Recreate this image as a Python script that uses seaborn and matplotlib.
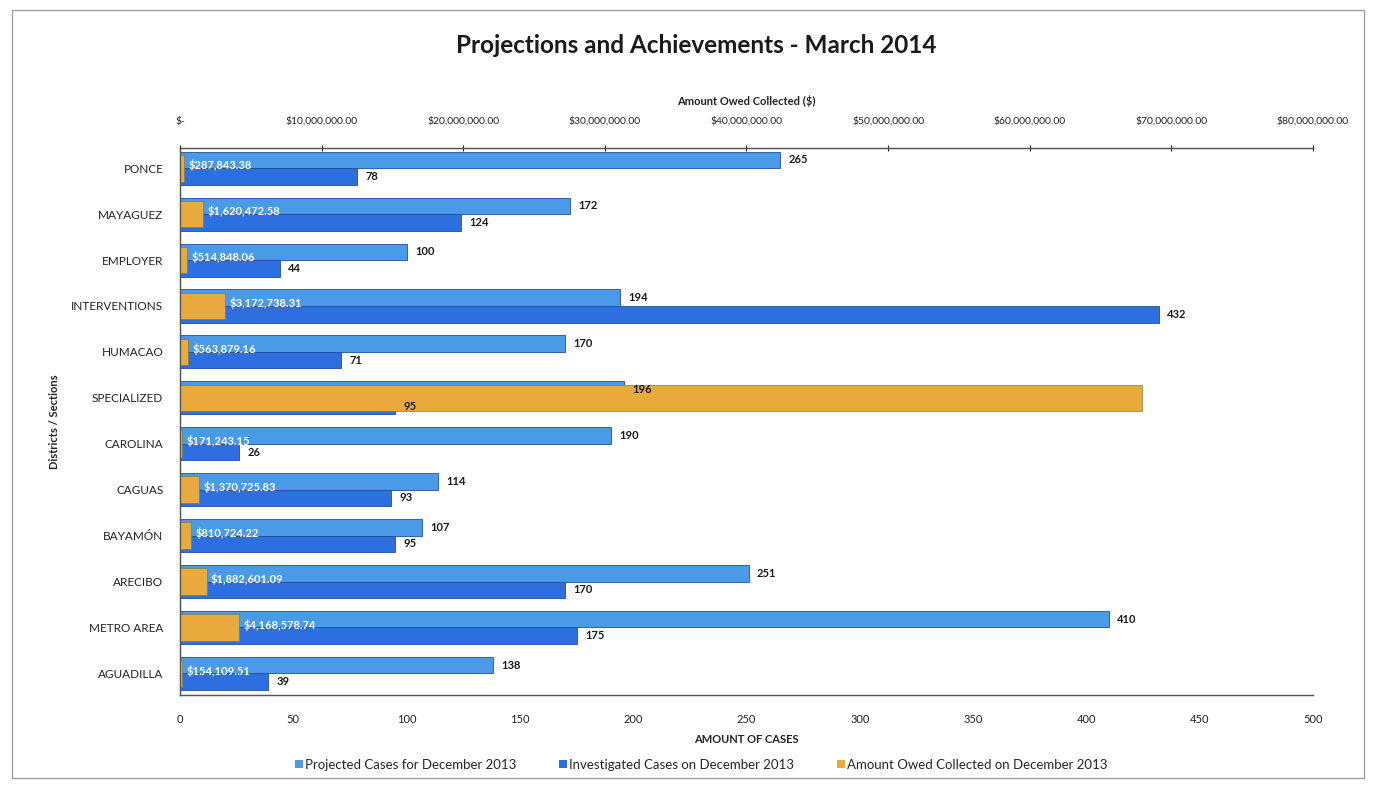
import matplotlib
matplotlib.use("Agg")
import matplotlib.pyplot as plt
import seaborn as sns
import pandas as pd
from matplotlib.ticker import FuncFormatter
from matplotlib.patches import Patch, Rectangle

# Offices / sections, listed top to bottom
offices = ["PONCE", "MAYAGUEZ", "EMPLOYER", "INTERVENTIONS", "HUMACAO",
           "SPECIALIZED", "CAROLINA", "CAGUAS", "BAYAMÓN", "ARECIBO",
           "METRO AREA", "AGUADILLA"]

# Cases (bottom axis)
projected = [265, 172, 100, 194, 170, 196, 190, 114, 107, 251, 410, 138]
investigated = [78, 124, 44, 432, 71, 95, 26, 93, 95, 170, 175, 39]

# Amount owed collected in dollars (top axis)
collected = [287843.38, 1620472.58, 514848.06, 3172738.31, 563879.16,
             67950000.00, 171243.15, 1370725.83, 810724.22, 1882601.09,
             4168578.74, 154109.51]

series_names = ["Projected Cases for December 2013",
                "Investigated Cases on December 2013",
                "Amount Owed Collected on December 2013"]

case_ticks = list(range(0, 501, 50))
money_ticks = [0, 10e6, 20e6, 30e6, 40e6, 50e6, 60e6, 70e6, 80e6]

proj_color = "#4a9ae8"
inv_color = "#2e6fdf"
gold_color = "#e8aa3c"

sns.set_style("white")
plt.rcParams["font.family"] = ["Lato", "DejaVu Sans"]

counts = pd.DataFrame({
    "office": offices * 2,
    "series": [series_names[0]] * len(offices) + [series_names[1]] * len(offices),
    "cases": projected + investigated,
})
money = pd.DataFrame({"office": offices, "amount": collected})

fig = plt.figure(figsize=(13.75, 7.86), dpi=100)
ax = fig.add_axes([0.1309, 0.1158, 0.8240, 0.6959])

sns.barplot(data=counts, y="office", x="cases", hue="series", order=offices,
            hue_order=series_names[:2], palette=[proj_color, inv_color],
            width=0.72, orient="h", errorbar=None, saturation=1,
            edgecolor="#1f4fa8", linewidth=0.6, legend=False, ax=ax)

ax2 = ax.twiny()
sns.barplot(data=money, y="office", x="amount", order=offices,
            color=gold_color, width=0.58, orient="h", errorbar=None,
            saturation=1, edgecolor="#8a7a30", linewidth=0.5, ax=ax2)

# Axes ranges
ax.set_xlim(0, 500)
ax2.set_xlim(0, 80e6)
ax.set_ylim(11.47, -0.44)

# Bottom axis (cases)
ax.set_xticks(case_ticks)
ax.tick_params(axis="x", length=0, pad=14, labelsize=8, colors="#222222")
ax.set_xlabel("AMOUNT OF CASES", fontsize=8, fontweight="bold",
              color="#222222", labelpad=6)

# Left axis (offices)
ax.tick_params(axis="y", length=0, pad=12, labelsize=8.5, colors="#222222")
ax.set_ylabel("Districts / Sections", fontsize=8, fontweight="bold",
              color="#222222")
ax.yaxis.set_label_coords(-0.106, 0.5)
ax2.set_ylabel("")

# Top axis (money)
def money_fmt(v, _pos):
    return "$-" if v == 0 else f"${v:,.2f}"

ax2.set_xticks(money_ticks)
ax2.xaxis.set_major_formatter(FuncFormatter(money_fmt))
ax2.tick_params(axis="x", length=4, width=0.8, pad=14, labelsize=7.5,
                colors="#222222", direction="inout")
ax2.set_xlabel("Amount Owed Collected ($)", fontsize=8, fontweight="bold",
               color="#222222", labelpad=8)

for a in (ax, ax2):
    a.spines["right"].set_visible(False)
    for s in ("left", "top", "bottom"):
        a.spines[s].set_color("#555555")
        a.spines[s].set_linewidth(0.9)
    a.grid(False)

# Case count labels at the end of each blue bar
for container, values in zip(ax.containers[:2], (projected, investigated)):
    for bar, v in zip(container, values):
        yc = bar.get_y() + bar.get_height() / 2
        ax2.annotate(str(v), xy=(v, yc), xycoords=ax.transData,
                     xytext=(6, 0), textcoords="offset points",
                     ha="left", va="center", fontsize=8,
                     fontweight="bold", color="#1a1a1a")

# Dollar labels just past the end of each gold bar
for bar, v in zip(ax2.containers[0], collected):
    yc = bar.get_y() + bar.get_height() / 2
    ax2.annotate(f"${v:,.2f}", xy=(v, yc), xycoords="data",
                 xytext=(3, 2), textcoords="offset points",
                 ha="left", va="center", fontsize=8,
                 fontweight="bold", color="white")

fig.suptitle("Projections and Achievements - March 2014", x=0.506, y=0.957,
             fontsize=17.5, fontweight="bold", color="#1a1a1a")

handles = [Patch(facecolor=c, edgecolor="none")
           for c in (proj_color, inv_color, gold_color)]
fig.legend(handles, series_names, loc="center", bbox_to_anchor=(0.51, 0.027),
           ncol=3, frameon=False, fontsize=9.5, handlelength=0.6,
           handleheight=0.6, handletextpad=0.2, columnspacing=3.2)

# Chart area border
fig.add_artist(Rectangle((12 / 1375, 8 / 786), 1352 / 1375, 768 / 786,
                         transform=fig.transFigure, fill=False,
                         edgecolor="#9a9a9a", linewidth=0.9))

fig.savefig("out.png", dpi=100, facecolor="white")
